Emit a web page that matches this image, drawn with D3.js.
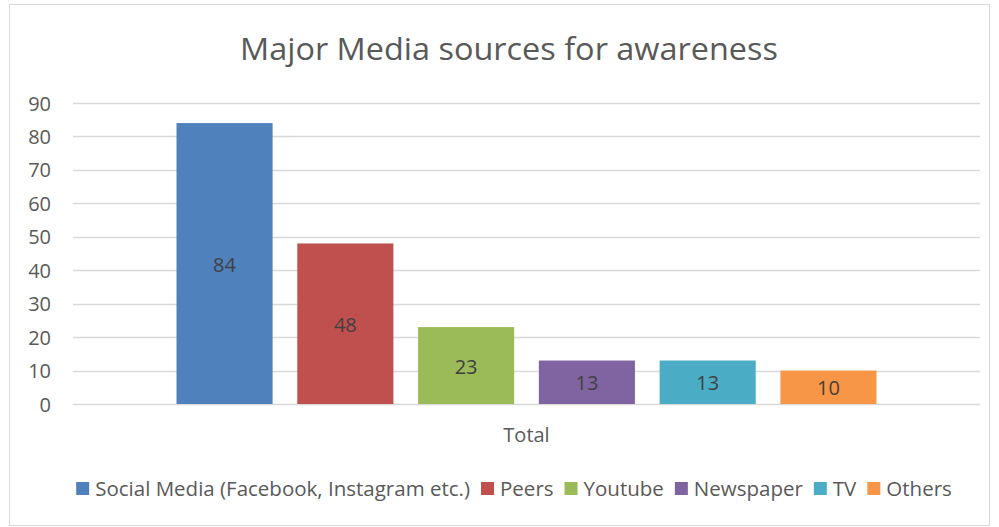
<!DOCTYPE html>
<html><head><meta charset="utf-8">
<script src="https://cdn.jsdelivr.net/npm/d3@7"></script>
<style>body{margin:0;background:#fff;} svg{display:block;}</style>
</head><body>
<svg id="chart" width="999" height="527"></svg>
<script>
const title = "Major Media sources for awareness";
const category = "Total";
const series = ["Social Media (Facebook, Instagram etc.)", "Peers", "Youtube", "Newspaper", "TV", "Others"];
const values = [84, 48, 23, 13, 13, 10];
const colors = ["#4F81BD", "#C0504D", "#9BBB59", "#8064A2", "#4BACC6", "#F79646"];
const yTicks = [0, 10, 20, 30, 40, 50, 60, 70, 80, 90];

const font = "'Open Sans', 'Noto Sans', sans-serif";
const svg = d3.select("#chart");
const plot = {left: 73, right: 980, top: 103, bottom: 404};

svg.append("rect").attr("x", 9.5).attr("y", 4.5).attr("width", 980).attr("height", 521)
  .attr("fill", "#fff").attr("stroke", "#d9d9d9").attr("stroke-width", 1);

svg.append("text").attr("x", 509).attr("y", 60).attr("text-anchor", "middle")
  .attr("font-family", font).attr("font-size", 31).attr("fill", "#595959")
  .attr("textLength", 538).attr("lengthAdjust", "spacingAndGlyphs")
  .text(title);

const y = d3.scaleLinear().domain([0, 90]).range([plot.bottom, plot.top]);
const x0 = d3.scaleBand().domain([category]).range([plot.left, plot.right]).paddingOuter(0.1258);
const x1 = d3.scaleBand().domain(series).range([0, x0.bandwidth()]).paddingInner(0.2044).paddingOuter(0.1022);

svg.append("g").selectAll("line").data(yTicks).join("line")
  .attr("x1", plot.left).attr("x2", plot.right)
  .attr("y1", d => Math.round(y(d)) + 0.5).attr("y2", d => Math.round(y(d)) + 0.5)
  .attr("stroke", "#d9d9d9").attr("stroke-width", 1.5);

const yAxis = d3.axisLeft(y).tickValues(yTicks).tickSize(0).tickPadding(0);
const gy = svg.append("g").attr("transform", `translate(51,0)`).call(yAxis);
gy.select(".domain").remove();
gy.selectAll("text").attr("font-family", font).attr("font-size", 20).attr("fill", "#595959").attr("dy", "0.35em");

const g = svg.append("g").attr("transform", `translate(${x0(category)},0)`);
g.selectAll("rect").data(values).join("rect")
  .attr("x", (d, i) => x1(series[i]))
  .attr("width", x1.bandwidth())
  .attr("y", d => y(d))
  .attr("height", d => y(0) - y(d))
  .attr("fill", (d, i) => colors[i]);

g.selectAll("text.lbl").data(values).join("text").attr("class", "lbl")
  .attr("x", (d, i) => x1(series[i]) + x1.bandwidth() / 2)
  .attr("y", d => (y(d) + y(0)) / 2 + 1)
  .attr("dy", "0.35em").attr("text-anchor", "middle")
  .attr("font-family", font).attr("font-size", 20).attr("fill", "#404040")
  .text(d => d);

const xAxis = d3.axisBottom(x0).tickSize(0).tickPadding(0);
const gx = svg.append("g").attr("transform", `translate(0,${plot.bottom})`).call(xAxis);
gx.select(".domain").remove();
gx.selectAll("text").attr("font-family", font).attr("font-size", 20).attr("fill", "#595959")
  .attr("y", 38).attr("dy", "0");

const legend = svg.append("g");
const items = legend.selectAll("g").data(series).join("g");
items.append("rect").attr("width", 13).attr("height", 13).attr("y", 482).attr("fill", (d, i) => colors[i]);
items.append("text").attr("x", 19).attr("y", 489).attr("dy", "0.35em")
  .attr("font-family", font).attr("font-size", 20.5).attr("fill", "#595959").text(d => d);
const widths = [];
items.each(function() { widths.push(d3.select(this).select("text").node().getComputedTextLength()); });
const gap = 11;
const total = d3.sum(widths, w => w + 19) + gap * (widths.length - 1);
let cx = (70 + 958) / 2 - total / 2;
items.attr("transform", (d, i) => { const t = `translate(${cx},0)`; cx += widths[i] + 19 + gap; return t; });
</script>
</body></html>
